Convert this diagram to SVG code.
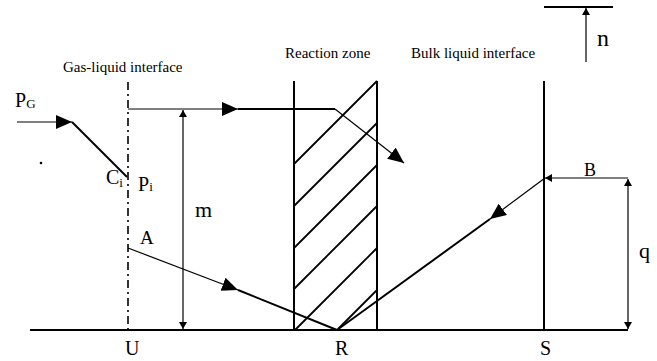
<svg xmlns="http://www.w3.org/2000/svg" width="657" height="361" viewBox="0 0 657 361">
<style>
.thin{stroke:#000;stroke-width:1.2;fill:none}
.thick{stroke:#000;stroke-width:2;fill:none}
text{font-family:'Liberation Serif','DejaVu Serif',serif;fill:#000}
</style>
<defs>
<marker id="big" markerUnits="userSpaceOnUse" markerWidth="17" markerHeight="15" refX="16" refY="7" orient="auto"><path d="M0,0 L16,7 L0,14 z" fill="#000"/></marker>
<marker id="small" markerUnits="userSpaceOnUse" markerWidth="9" markerHeight="9" refX="7" refY="4" orient="auto-start-reverse"><path d="M0,0 L7,4 L0,8 z" fill="#000"/></marker>
</defs>
<rect width="657" height="361" fill="#fff"/>
<g id="structure">
<line class="thick" x1="30" y1="330" x2="628" y2="330"/>
<line x1="128" y1="82" x2="128" y2="330" stroke="#000" stroke-width="1.6" stroke-dasharray="8,4,2,4"/>
<line class="thick" x1="294" y1="81" x2="294" y2="330"/>
<line class="thick" x1="377" y1="81" x2="377" y2="330"/>
<line class="thick" x1="544" y1="81" x2="544" y2="330"/>
<g stroke="#000" stroke-width="1.8">
<line x1="377" y1="81" x2="294" y2="164"/>
<line x1="377" y1="123" x2="294" y2="206"/>
<line x1="377" y1="165" x2="294" y2="248"/>
<line x1="377" y1="206" x2="294" y2="289"/>
<line x1="377" y1="248" x2="295" y2="330"/>
<line x1="377" y1="290" x2="338" y2="329"/>
</g>
<line class="thick" x1="544" y1="7" x2="613" y2="7"/>
<circle cx="41" cy="163" r="1.3" fill="#000"/>
</g>
<g id="connectors">
<line class="thin" x1="17" y1="122" x2="72" y2="122" marker-end="url(#big)"/>
<line class="thick" x1="72" y1="122" x2="127" y2="177"/>
<line class="thin" x1="128" y1="109" x2="238" y2="109" marker-end="url(#big)"/>
<line class="thick" x1="238" y1="109" x2="335" y2="109"/>
<line class="thin" x1="335" y1="109" x2="404" y2="163" marker-end="url(#big)"/>
<line class="thin" x1="128" y1="248" x2="238" y2="290" marker-end="url(#big)"/>
<line class="thick" x1="238" y1="290" x2="337" y2="330"/>
<line class="thin" x1="545" y1="178" x2="490" y2="219" marker-end="url(#big)"/>
<line class="thick" x1="490" y1="219" x2="337" y2="330"/>
<line class="thin" x1="183" y1="110" x2="183" y2="329" marker-start="url(#small)" marker-end="url(#small)"/>
<line class="thin" x1="628" y1="179" x2="628" y2="329" marker-start="url(#small)" marker-end="url(#small)"/>
<line class="thin" x1="628" y1="178" x2="545" y2="178" marker-end="url(#small)"/>
<line class="thin" x1="586" y1="62" x2="586" y2="8" marker-end="url(#small)"/>
</g>
<g id="labels" font-family="'Liberation Serif','DejaVu Serif',serif">
<text x="63" y="72" font-size="15">Gas-liquid interface</text>
<text x="285" y="58" font-size="15">Reaction zone</text>
<text x="411" y="58" font-size="15">Bulk liquid interface</text>
<text x="15" y="107" font-size="20">P<tspan font-size="13" dy="1">G</tspan></text>
<text x="106" y="184" font-size="20">C<tspan font-size="13" dy="3">i</tspan></text>
<text x="138" y="191" font-size="20">P<tspan font-size="13" dy="0">i</tspan></text>
<text x="195" y="217" font-size="22">m</text>
<text x="140" y="244" font-size="19">A</text>
<text x="597" y="46" font-size="24">n</text>
<text x="584" y="176" font-size="18">B</text>
<text x="639" y="258" font-size="22">q</text>
<text x="125" y="355" font-size="20">U</text>
<text x="335" y="355" font-size="20">R</text>
<text x="540" y="355" font-size="20">S</text>
</g>
</svg>
